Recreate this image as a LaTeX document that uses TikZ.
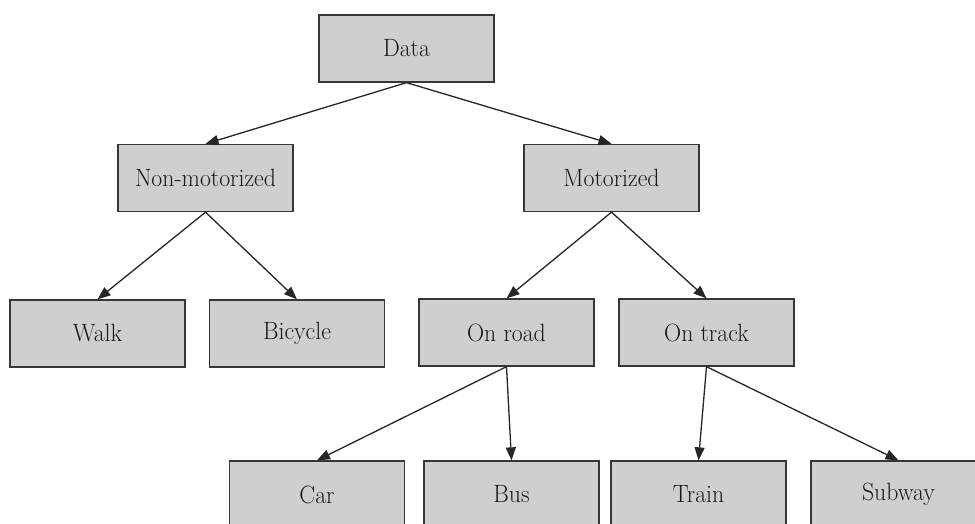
\documentclass[tikz,border=0pt]{standalone}
\usepackage{graphicx}
\usetikzlibrary{arrows.meta}

\definecolor{boxfill}{RGB}{208,206,208}
\definecolor{boxline}{RGB}{55,55,55}

% narrow serif labels
\newcommand{\boxlabel}[1]{\scalebox{0.95}[1]{#1}}

\tikzset{
  catbox/.style={draw=boxline, fill=boxfill, line width=1.3pt,
    minimum width=175pt, minimum height=67pt, inner sep=0pt,
    text=black!90, font=\fontsize{25}{30}\selectfont},
  link/.style={line width=1.3pt, draw=black!85,
    -{Triangle[length=13pt,width=10pt]}}
}

\begin{document}
\begin{tikzpicture}[x=1pt,y=-1pt]
\useasboundingbox (0,0) rectangle (975,523);
\clip (0,0) rectangle (975,523);

% top level
\node[catbox] (data) at (406.5,48.5) {\boxlabel{Data}};

% second level
\node[catbox] (nonmot) at (205.5,178) {\boxlabel{Non-motorized}};
\node[catbox] (mot)    at (611.5,178) {\boxlabel{Motorized}};

% third level
\node[catbox] (walk)    at (97.5,333.5)  {\boxlabel{Walk}};
\node[catbox] (bicycle) at (297,333.5)   {\boxlabel{Bicycle}};
\node[catbox] (onroad)  at (506.5,332.5) {\boxlabel{On road}};
\node[catbox] (ontrack) at (706.5,332.5) {\boxlabel{On track}};

% fourth level
\node[catbox] (car)    at (317,494.5)   {\boxlabel{Car}};
\node[catbox] (bus)    at (511.5,494.5) {\boxlabel{Bus}};
\node[catbox] (train)  at (698.5,494.5) {\boxlabel{Train}};
\node[catbox] (subway) at (898.5,494.5) {\boxlabel{Subway}};

% connectors
\draw[link] (data.south) -- (nonmot.north);
\draw[link] (data.south) -- (mot.north);
\draw[link] (nonmot.south) -- (walk.north);
\draw[link] (nonmot.south) -- (bicycle.north);
\draw[link] (mot.south) -- (onroad.north);
\draw[link] (mot.south) -- (ontrack.north);
\draw[link] (onroad.south) -- (car.north);
\draw[link] (onroad.south) -- (bus.north);
\draw[link] (ontrack.south) -- (train.north);
\draw[link] (ontrack.south) -- (subway.north);
\end{tikzpicture}
\end{document}
